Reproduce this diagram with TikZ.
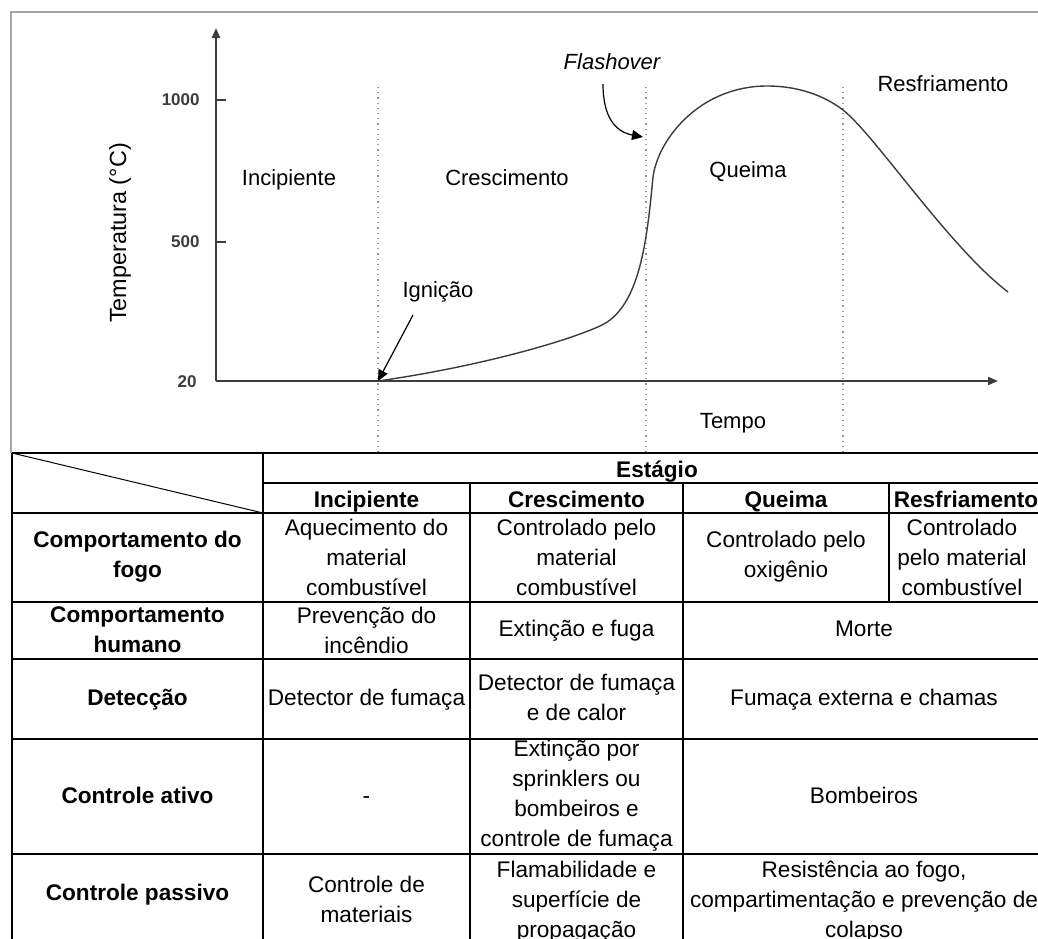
\documentclass[tikz,border=0pt]{standalone}
\usepackage{fontspec}
\setmainfont{Liberation Sans}
\usetikzlibrary{arrows.meta,positioning}
\definecolor{axisgray}{RGB}{60,60,60}
\definecolor{framegray}{RGB}{165,165,165}
\definecolor{dotgray}{RGB}{150,150,150}

\tikzset{
  lbl/.style={font=\fontsize{11}{13}\selectfont, inner sep=0pt, anchor=base},
  ticklbl/.style={font=\fontsize{8.5}{10}\selectfont\bfseries, anchor=east, inner sep=0pt, text=axisgray},
  cell/.style={font=\fontsize{11.3}{15}\selectfont, align=center, inner sep=0pt},
  headcell/.style={font=\fontsize{11.3}{15}\selectfont\bfseries, align=center, inner sep=0pt},
  phaseline/.style={dotgray, dotted, line width=0.6pt},
  axisline/.style={axisgray, line width=1pt, -{Triangle[length=5pt,width=4pt]}},
  pointer/.style={black, line width=0.6pt, -{Triangle[length=5.5pt,width=5pt]}},
  tline/.style={black, line width=0.7pt},
}

\begin{document}
\begin{tikzpicture}[x=0.5pt, y=-0.5pt]
    \useasboundingbox (0,0) rectangle (1038,938);
    \fill[white] (0,0) rectangle (1038,938);
    \clip (0,0) rectangle (1038,938);

    % Chart frame
    \draw[framegray, line width=1pt] (11,453) -- (11,12) -- (1060,12);

    % Phase separators
    \foreach \px in {378,646,843}
        \draw[phaseline] (\px,87) -- (\px,453);

    % Axes
    \coordinate (O) at (216,381);
    \coordinate (ytop) at (216,28);
    \coordinate (xend) at (998,381);
    \draw[axisline] (O) -- (ytop);
    \draw[axisline] (O) -- (xend);
    \draw[axisgray, line width=0.8pt] (216,100) -- (226,100);
    \draw[axisgray, line width=0.8pt] (216,242) -- (226,242);
    \node[ticklbl] (t1000) at (200,100) {1000};
    \node[ticklbl] (t500) at (200,242) {500};
    \node[ticklbl] (t20) at (197,382) {20};
    \node[lbl, rotate=90, font=\fontsize{11.7}{13}\selectfont] (ylabel) at (126,233) {Temperatura (°C)};
    \node[lbl] (xlabel) at (733,428) {Tempo};

    % Temperature curve
    \coordinate (ign) at (378,381);
    \draw[axisgray, line width=0.7pt] (ign)
        .. controls (470,368) and (560,344) .. (600,326)
        .. controls (640,308) and (647,240) .. (653,177)
        .. controls (658,139) and (700,86) .. (767,86)
        .. controls (805,86) and (830,100) .. (843,110)
        .. controls (875,135) and (948,246) .. (1008,292);

    % Stage labels
    \node[lbl] (incip) at (289,185) {Incipiente};
    \node[lbl] (cresc) at (507,185) {Crescimento};
    \node[lbl] (queima) at (748,177) {Queima};
    \node[lbl] (resfr) at (943,91) {Resfriamento};
    \node[lbl, font=\fontsize{11}{13}\selectfont\itshape] (flashlbl) at (612,69) {Flashover};
    \node[lbl] (ignlbl) at (438,297) {Ignição};

    % Pointers
    \coordinate (ignTail) at (413,315);
    \coordinate (flashTail) at (603,84);
    \coordinate (flashHead) at (643,137);
    \draw[pointer] (ignTail) -- (ign);
    \draw[pointer] (flashTail) .. controls (603,118) and (616,132) .. (flashHead);

    % Table grid
    \draw[tline] (12,453) -- (1060,453);
    \draw[tline] (263,483) -- (1060,483);
    \foreach \ry in {513,602,659,739,854}
        \draw[tline] (12,\ry) -- (1060,\ry);
    \draw[tline] (12,453) -- (12,950);
    \draw[tline] (263,453) -- (263,950);
    \draw[tline] (470,483) -- (470,950);
    \draw[tline] (683,483) -- (683,950);
    \draw[tline] (889,483) -- (889,602);
    \draw[black, line width=0.5pt] (12,453) -- (263,513);

    % Header rows
    \node[headcell, anchor=base] (estagio) at (657,477) {Estágio};
    \node[headcell, anchor=base] (hIncip) at (366.5,507) {Incipiente};
    \node[headcell, anchor=base] (hCresc) at (576.5,507) {Crescimento};
    \node[headcell, anchor=base] (hQueima) at (786,507) {Queima};
    \node[headcell, anchor=base] (hResfr) at (966,507) {Resfriamento};

    % Row titles
    \node[headcell] (rFogo) at (137.5,557) {Comportamento do\\fogo};
    \node[headcell] (rHumano) at (137.5,630) {Comportamento\\humano};
    \node[headcell, anchor=base] (rDetec) at (137.5,705) {Detecção};
    \node[headcell, anchor=base] (rAtivo) at (137.5,803) {Controle ativo};
    \node[headcell, anchor=base] (rPassivo) at (137.5,900) {Controle passivo};

    % Incipiente column
    \node[cell] (fogoA) at (366.5,557) {Aquecimento do\\material\\combustível};
    \node[cell] (humanoA) at (366.5,630) {Prevenção do\\incêndio};
    \node[cell, anchor=base] (detecA) at (366.5,705) {Detector de fumaça};
    \node[cell, anchor=base] (ativoA) at (366.5,803) {-};
    \node[cell] (passivoA) at (366.5,899) {Controle de\\materiais};

    % Crescimento column
    \node[cell] (fogoB) at (576.5,557) {Controlado pelo\\material\\combustível};
    \node[cell, anchor=base] (humanoB) at (576.5,636) {Extinção e fuga};
    \node[cell] (detecB) at (576.5,697) {Detector de fumaça\\e de calor};
    \node[cell] (ativoB) at (576.5,796) {Extinção por\\sprinklers ou\\bombeiros e\\controle de fumaça};
    \node[cell] (passivoB) at (576.5,902) {Flamabilidade e\\superfície de\\propagação};

    % Queima and Resfriamento columns
    \node[cell] (fogoC) at (786,557) {Controlado pelo\\oxigênio};
    \node[cell] (fogoD) at (962,557) {Controlado\\pelo material\\combustível};
    \node[cell, anchor=base] (humanoCD) at (864,636) {Morte};
    \node[cell, anchor=base] (detecCD) at (864,705) {Fumaça externa e chamas};
    \node[cell, anchor=base] (ativoCD) at (864,803) {Bombeiros};
    \node[cell] (passivoCD) at (864,902) {Resistência ao fogo,\\compartimentação e prevenção de\\colapso};
\end{tikzpicture}
\end{document}
